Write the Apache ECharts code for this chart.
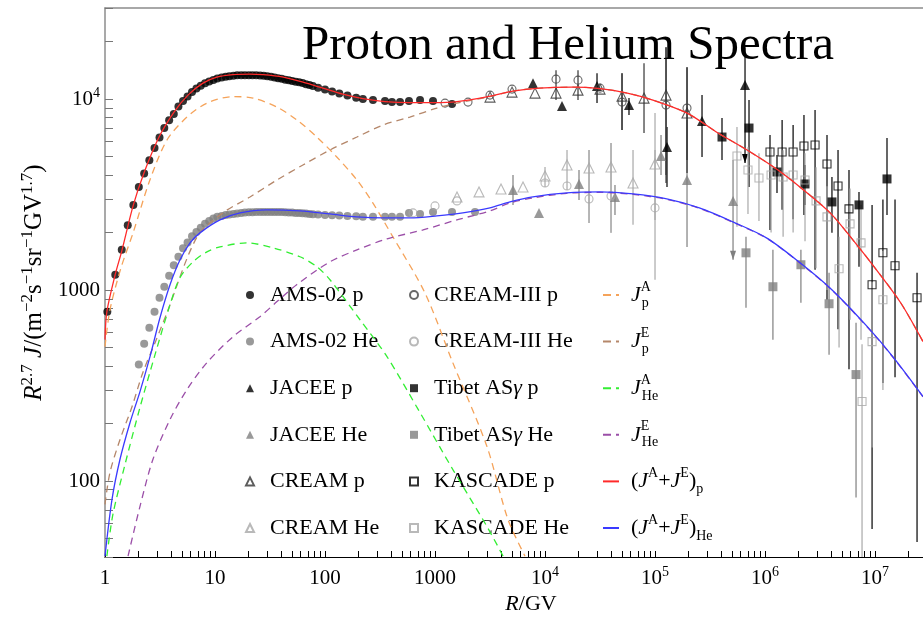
<!DOCTYPE html>
<html><head><meta charset="utf-8">
<script src="https://cdn.jsdelivr.net/npm/echarts@6.0.0/dist/echarts.min.js"></script>
<style>html,body{margin:0;padding:0;background:#fff;}#chart{width:923px;height:626px;}</style>
</head><body><div id="chart"></div>
<script>
const FONT = '"Liberation Serif", "DejaVu Serif", serif';

// ---------- axis ticks ----------
const xMajor = [1, 10, 100, 1000, 1e4, 1e5, 1e6, 1e7];
const yMajor = [100, 1000, 10000];
const xRange = [1, 2.73e7];
const yRange = [40, 30000];

// ---------- AMS-02 ----------
const amsP_R = [1.05,1.24,1.42,1.61,1.81,2.03,2.27,2.53,2.82,3.13,3.46,3.83,4.22,4.65,5.12,5.63,6.18,6.78,7.42,8.12,8.86,9.67,10.5,11.5,12.5,13.5,14.7,15.9,17.3,18.7,20.3,21.9,23.7,25.7,27.7,29.9,32.3,34.8,37.5,40.4,43.5,46.8,50.3,54.1,58.2,62.5,67.2,72.2,77.6,86.5,100,116,135,160,192,221,273,351,406,481,580,731,959,1428];
const amsP_F = [770,1202,1624,2184,2792,3467,4080,4782,5545,6292,7055,7749,8367,9138,9762,10318,10880,11348,11765,12125,12376,12603,12802,12986,13097,13191,13270,13319,13353,13353,13353,13353,13319,13289,13255,13160,13081,12986,12878,12783,12645,12541,12449,12346,12241,12154,11979,11837,11695,11472,11213,10945,10698,10455,10170,10000,9880,9762,9645,9645,9762,9880,9762,9417];
const amsHe_R = [2.03,2.27,2.53,2.82,3.13,3.46,3.83,4.22,4.65,5.12,5.63,6.18,6.78,7.42,8.12,8.86,9.67,10.5,11.5,12.5,13.5,14.7,15.9,17.3,18.7,20.3,21.9,23.7,25.7,27.7,29.9,32.3,34.8,37.5,40.4,43.5,46.8,50.3,54.1,58.2,62.5,67.2,72.2,77.6,86.5,100,116,135,160,192,221,273,351,406,481,580,731,959,1428,2310];
const amsHe_F = [407,524,635,770,912,1041,1188,1348,1494,1654,1777,1911,2017,2117,2222,2303,2373,2417,2446,2475,2490,2505,2520,2536,2545,2552,2559,2562,2567,2567,2567,2567,2567,2567,2562,2557,2551,2545,2536,2530,2524,2515,2505,2496,2484,2475,2466,2456,2446,2432,2417,2417,2417,2417,2417,2536,2505,2567,2567,2567];

// ---------- JACEE ----------
const jaceeP_R  = [7780,14275,29700,58000,128500,267500,658000];
const jaceeP_F  = [12125,9192,11695,9303,5612,7674,11837];
const jaceeP_lo = [null,null,9530,8248,3467,4975,4627];
const jaceeP_hi = [null,null,13674,10121,7140,10493,18700];
const jaceeP_arrow = [0,0,0,0,0,0,1];
const jaceeHe_R  = [5117,8820,20370,43260,113400,195400,512000];
const jaceeHe_F  = [3344,2536,3594,3074,5035,3772,2930];
const jaceeHe_lo = [2792,null,2965,2475,4006,1683,1440];
const jaceeHe_hi = [4006,null,4255,3550,6484,7766,4800];
const jaceeHe_arrow = [0,0,0,0,0,0,1];

// ---------- CREAM ----------
const creamP_R  = [3162,5012,8110,12590,19950,31620,50120,79430,125900,195400];
const creamP_F  = [10244,10880,10750,10750,11143,11280,10368,10121,10493,8450];
const creamP_lo = [null,null,null,null,null,null,6887,6643,4006,4104];
const creamP_hi = [null,null,null,null,null,null,13674,15420,18700,14700];
const creamHe_R  = [1585,2512,3981,6310,10000,15850,25120,39810,63100,100000];
const creamHe_F  = [3074,3266,3384,3467,3959,4519,4358,4410,3638,4573];
const creamHe_lo = [null,null,null,null,3467,3344,2248,1993,2200,2330];
const creamHe_hi = [null,null,null,null,4410,5413,5413,5888,5413,8450];

// ---------- CREAM-III ----------
const cream3P_R  = [1233,1995,3162,5012,12590,19950,31620,50120,125900,195400];
const cream3P_F  = [9530,9645,10493,11280,12720,12570,11415,9645,9303,8974];
const cream3P_lo = [null,null,null,null,9880,9880,null,6887,3638,4800];
const cream3P_hi = [null,null,null,null,14180,14180,null,13674,18700,14700];
const cream3He_R  = [631,1000,1585,10000,15850,25120,39810,100000];
const cream3He_F  = [2536,2759,2930,3638,3508,3001,3112,2693];
const cream3He_lo = [null,null,null,null,null,2248,1993,1132];
const cream3He_hi = [null,null,null,null,null,5413,5888,5413];

// ---------- Tibet ASγ ----------
const tibetP_R  = [406400,715300,1.285e6,2.31e6,4.06e6,7.15e6,1.285e7];
const tibetP_F  = [6330,7055,4153,3594,2894,2792,3819];
const tibetP_lo = [4800,3467,3226,2792,1993,1324,2475];
const tibetP_hi = [7955,9880,5097,4519,3912,3266,6254];
const tibetHe_R  = [671500,1.18e6,2.12e6,3.82e6,6.72e6];
const tibetHe_F  = [1567,1041,1357,848,361];
const tibetHe_lo = [808,550,858,459,82];
const tibetHe_hi = [1900,1624,1624,1231,675];

// ---------- KASCADE ----------
const kasP_R  = [1.11e6,1.43e6,1.80e6,2.26e6,2.85e6,3.66e6,4.61e6,5.80e6,9.40e6,1.18e7,1.52e7,2.41e7];
const kasP_F  = [5282,5282,5282,5679,5748,4573,3508,2661,1066,1567,1340,912];
const kasP_lo = [2066,2630,2350,2475,1277,890,624,385,56,326,349,48];
const kasP_hi = [6484,7766,7325,8250,8760,6484,5413,4255,2792,2980,2980,1231];
const kasHe_R  = [556000,700000,881000,1.135e6,1.46e6,1.80e6,2.31e6,2.91e6,3.66e6,4.71e6,5.93e6,7.46e6,7.62e6,9.40e6,1.18e7];
const kasHe_F  = [5035,4255,3864,4006,3912,4006,3772,2930,2417,1292,2222,1767,261,537,890];
const kasHe_lo = [2146,2500,2300,2000,1900,2000,1800,1300,1000,500,700,550,40,150,300];
const kasHe_hi = [7140,5600,5200,5600,5400,5600,5200,4400,3500,1900,3400,2800,520,1100,1600];

// ---------- model curves ----------
const jpA_R = [1,1.11,1.398,1.80,2.56,3.66,5.56,8.45,14.6,22.2,36.6,55.6,84.3,128,195,272,414,808,1450,2960,4600,6580];
const jpA_F = [506,789,1308,1993,3772,6106,8052,9530,10306,10121,9082,7766,6330,4975,3772,2860,1900,968,417,152,63,40.4];
const jpE_R = [1,1.11,1.37,1.76,2.21,2.85,3.66,6.87,11.8,20.8,36.6,63,111,195,336,591,1039,1581,3162,5094,8907,17800,31623,55900,95700,196000,374000,687000,1.31e6,2.24e6,3.91e6,6.29e6,1.03e7,1.71e7,2.73e7];
const jpE_F = [75.5,111,165,245,370,530,761,1900,2536,3074,3772,4519,5413,6330,7313,8052,8974,9530,10306,11011,11415,11553,11348,10750,9880,8450,6643,5413,4255,3344,2536,1832,1277,858,537];
const jheA_R = [1.04,1.18,1.52,2.08,2.85,3.9,4.8,6.31,8.45,11.1,19.5,33.6,59.2,84.3,111,208,366,731,1450,2960,4160];
const jheA_F = [40.4,66.8,122,243,459,838,1160,1406,1586,1683,1767,1664,1494,1324,1132,699,448,228,115,57.9,40.4];
const jheE_R = [1.62,2.08,2.73,3.9,5.56,8.45,14.6,25.6,36.6,55.6,111,195,366,779,1581,3160,4810,7760,15800,31600,63300,128000,253000,510000,1.03e6,2.03e6,4.05e6,8.51e6,1.45e7,2.73e7];
const jheE_F = [40.4,73.7,130,210,301,417,570,725,870,1070,1406,1624,1854,2066,2331,2598,2860,3040,3210,3250,3170,2985,2680,2265,1870,1400,1000,640,446,276];
const sumP_R = [1,1.04,1.23,1.43,1.80,2.26,3.10,4.24,5.68,7.77,10.4,14.6,20.8,27.3,41.7,63.0,95.7,145,221,351,591,959,1581,3162,5094,8907,17800,31623,55900,95700,196000,374000,687000,1.31e6,2.24e6,3.91e6,6.29e6,1.03e7,1.71e7,2.73e7];
const sumP_F = [550,770,1188,1624,2759,4104,6330,8551,10493,12125,13032,13432,13513,13432,13032,12271,11415,10620,10060,9703,9588,9588,9703,10368,11011,11415,11553,11348,10750,9880,8450,6643,5413,4255,3344,2536,1832,1277,858,537];
const sumHe_R = [1,1.158,1.369,1.687,2.08,2.565,3.16,3.90,4.81,5.93,7.30,11.1,16.9,29.6,59.2,111,195,336,591,1039,1790,3160,4810,7760,15800,31600,63300,128000,253000,510000,1.03e6,2.03e6,4.05e6,8.51e6,1.45e7,2.73e7];
const sumHe_F = [40.4,80.2,130,202,294,448,716,1066,1440,1767,1993,2331,2536,2630,2598,2505,2417,2388,2388,2446,2536,2693,2894,3074,3226,3266,3188,3001,2693,2275,1877,1406,1004,643,448,277];

// ---------- legend labels ----------
const legendCol1 = ['AMS-02 p','AMS-02 He','JACEE p','JACEE He','CREAM p','CREAM He'];
const legendCol2 = ['CREAM-III p','CREAM-III He','Tibet ASγ p','Tibet ASγ He','KASCADE p','KASCADE He'];
const legendCol3 = ['JpA','JpE','JHeA','JHeE','sumP','sumHe'];
const dashedCurves = ['JpA','JpE','JHeA','JHeE'];
const curveLabels = {
  JpA:  '{g| }{j|J}{sp|A}{sb|p}',
  JpE:  '{g| }{j|J}{sp|E}{sb|p}',
  JHeA: '{g| }{j|J}{sp|A}{sb|He}',
  JHeE: '{g| }{j|J}{sp|E}{sb|He}',
  sumP: '{g| }{n|(}{j|J}{su|A}{n|+}{j|J}{su|E}{n|)}{sb|p}',
  sumHe:'{g| }{n|(}{j|J}{su|A}{n|+}{j|J}{su|E}{n|)}{sb|He}'
};

// ---------- helpers ----------
function pts(R, F) { return R.map((r, i) => [r, F[i]]); }
function bars(R, lo, hi, arrow) {
  const out = [];
  R.forEach((r, i) => { if (lo[i] != null) out.push([r, lo[i], hi[i], arrow ? arrow[i] : 0]); });
  return out;
}
function ticksFrom(majors, lo, hi) {
  const out = [];
  const decades = [majors[0] / 10].concat(majors);
  decades.forEach(m => { for (let k = 1; k <= 9; k++) { const v = m * k; if (v >= lo && v <= hi) out.push(v); } });
  return out;
}
function errSeries(data, color) {
  return {
    type: 'custom', silent: true, clip: true, z: 1, data: data,
    encode: { x: 0, y: [1, 2] },
    renderItem: function (params, api) {
      const x = api.value(0), lo = api.value(1), hi = api.value(2), ar = api.value(3);
      const a = api.coord([x, lo]), b = api.coord([x, hi]);
      const ch = [{ type: 'line', shape: { x1: a[0], y1: a[1], x2: b[0], y2: b[1] }, style: { stroke: color, lineWidth: 1.2 } }];
      if (ar) ch.push({ type: 'polygon', shape: { points: [[a[0] - 3, a[1] - 9], [a[0] + 3, a[1] - 9], [a[0], a[1]]] }, style: { fill: color } });
      return { type: 'group', children: ch };
    }
  };
}
function scatter(name, R, F, symbol, size, fill, stroke) {
  return {
    name: name, type: 'scatter', data: pts(R, F), symbol: symbol, symbolSize: size, z: 3,
    itemStyle: fill ? { color: fill } : { color: 'rgba(255,255,255,0)', borderColor: stroke, borderWidth: 1.1 }
  };
}
function curve(name, R, F, color, dashed) {
  return {
    name: name, type: 'line', data: pts(R, F), symbol: 'none', showSymbol: false, smooth: 0.3,
    z: dashed ? 4 : 6, clip: true,
    lineStyle: { color: color, width: 1.3, type: dashed ? [7, 5] : 'solid' },
    itemStyle: { color: color }
  };
}
function powLabel(v) {
  const e = Math.round(Math.log10(v));
  if (e < 4) return '{b|' + Math.round(v) + '}';
  return '{b|10}{s|' + e + '}';
}

const axisRich = {
  b: { fontFamily: FONT, fontSize: 21, lineHeight: 26, color: '#000' },
  s: { fontFamily: FONT, fontSize: 14, lineHeight: 14, verticalAlign: 'top', color: '#000' }
};
const legendRich = {
  g: { fontFamily: FONT, fontSize: 10, width: 7, lineHeight: 30 },
  p: { fontFamily: FONT, fontSize: 10, width: 11, lineHeight: 30 },
  j: { fontFamily: FONT, fontSize: 22, fontStyle: 'italic', lineHeight: 30, color: '#000' },
  n: { fontFamily: FONT, fontSize: 22, lineHeight: 30, color: '#000' },
  sp: { fontFamily: FONT, fontSize: 14, lineHeight: 15, verticalAlign: 'top', width: 1, color: '#000' },
  su: { fontFamily: FONT, fontSize: 14, lineHeight: 15, verticalAlign: 'top', color: '#000' },
  sb: { fontFamily: FONT, fontSize: 14, lineHeight: 13, verticalAlign: 'bottom', color: '#000' },
  gi: { fontFamily: FONT, fontSize: 22, fontStyle: 'italic', lineHeight: 30, color: '#000' }
};
function legendBox(data, left, itemWidth, formatter, extra) {
  return Object.assign({
    data: data, left: left, top: 280, orient: 'vertical', selectedMode: false,
    itemWidth: itemWidth, itemHeight: 8, itemGap: 16.6, padding: 0,
    formatter: formatter,
    textStyle: { fontFamily: FONT, fontSize: 22, lineHeight: 30, color: '#000', rich: legendRich }
  }, extra || {});
}

const DARK = '#000', GRAY = '#7f7f7f', LIGHT = '#a8a8a8';

const option = {
  animation: false,
  backgroundColor: '#fff',
  title: {
    text: 'Proton and Helium Spectra', left: 297, top: 17,
    textStyle: { fontFamily: FONT, fontSize: 49, fontWeight: 'normal', color: '#000' }
  },
  grid: { left: 105, right: 0, top: 8, bottom: 69, containLabel: false },
  xAxis: [{
    type: 'log', min: xRange[0], max: xRange[1], position: 'bottom',
    axisLine: { lineStyle: { color: '#000', width: 1 } },
    axisTick: { inside: true, length: 6, customValues: ticksFrom(xMajor, xRange[0], xRange[1]), lineStyle: { color: '#000', width: 1 } },
    minorTick: { show: false },
    axisLabel: { customValues: xMajor, formatter: powLabel, margin: 8, rich: axisRich, color: '#000', fontFamily: FONT, fontSize: 21 },
    splitLine: { show: false },
    name: '{i|R}{n|/GV}', nameLocation: 'middle', nameGap: 36,
    nameTextStyle: {
      padding: [0, 0, 0, 34],
      rich: {
        i: { fontFamily: FONT, fontSize: 22, fontStyle: 'italic', color: '#000' },
        n: { fontFamily: FONT, fontSize: 22, color: '#000' }
      }
    }
  }, {
    type: 'log', min: xRange[0], max: xRange[1], position: 'top',
    axisLine: { lineStyle: { color: '#8c8c8c', width: 1.5 } },
    axisTick: { show: false }, axisLabel: { show: false }, splitLine: { show: false }
  }],
  yAxis: {
    type: 'log', min: yRange[0], max: yRange[1],
    axisLine: { lineStyle: { color: '#8c8c8c', width: 1.5 } },
    axisTick: { inside: true, length: 8, customValues: ticksFrom(yMajor, yRange[0], yRange[1]), lineStyle: { color: '#777', width: 1 } },
    minorTick: { show: false },
    axisLabel: { customValues: yMajor, formatter: powLabel, margin: 5, rich: axisRich, color: '#000', fontFamily: FONT, fontSize: 21 },
    splitLine: { show: false },
    name: '{i|R}{s|2.7}{i| J}{n|/(m}{s|−2}{n|s}{s|−1}{n|sr}{s|−1}{n|GV}{s|1.7}{n|)}',
    nameLocation: 'middle', nameRotate: 90, nameGap: 39,
    nameTextStyle: {
      rich: {
        i: { fontFamily: FONT, fontSize: 25, fontStyle: 'italic', lineHeight: 32, color: '#000' },
        n: { fontFamily: FONT, fontSize: 25, lineHeight: 32, color: '#000' },
        s: { fontFamily: FONT, fontSize: 17, lineHeight: 16, verticalAlign: 'top', color: '#000' }
      }
    }
  },
  legend: [
    legendBox(legendCol1, 245, 8, n => '{p| }' + n),
    legendBox(legendCol2, 409, 8, n => '{p| }' + n.replace('γ', '{gi|γ}')),
    legendBox(legendCol3.map(n => ({ name: n, lineStyle: { type: dashedCurves.indexOf(n) >= 0 ? [8, 5] : 'solid' } })),
      602, 16, n => curveLabels[n], { itemStyle: { opacity: 0 } })
  ],
  series: [
    errSeries(bars(jaceeP_R, jaceeP_lo, jaceeP_hi, jaceeP_arrow), DARK),
    errSeries(bars(jaceeHe_R, jaceeHe_lo, jaceeHe_hi, jaceeHe_arrow), GRAY),
    errSeries(bars(creamP_R, creamP_lo, creamP_hi), '#333'),
    errSeries(bars(creamHe_R, creamHe_lo, creamHe_hi), LIGHT),
    errSeries(bars(cream3P_R, cream3P_lo, cream3P_hi), '#333'),
    errSeries(bars(cream3He_R, cream3He_lo, cream3He_hi), LIGHT),
    errSeries(bars(tibetP_R, tibetP_lo, tibetP_hi), DARK),
    errSeries(bars(tibetHe_R, tibetHe_lo, tibetHe_hi), GRAY),
    errSeries(bars(kasP_R, kasP_lo, kasP_hi), DARK),
    errSeries(bars(kasHe_R, kasHe_lo, kasHe_hi), LIGHT),

    scatter('AMS-02 p', amsP_R, amsP_F, 'circle', 8, '#000'),
    scatter('AMS-02 He', amsHe_R, amsHe_F, 'circle', 8, GRAY),
    scatter('JACEE p', jaceeP_R, jaceeP_F, 'triangle', 10, '#000'),
    scatter('JACEE He', jaceeHe_R, jaceeHe_F, 'triangle', 10, GRAY),
    scatter('CREAM p', creamP_R, creamP_F, 'triangle', 10, null, '#333'),
    scatter('CREAM He', creamHe_R, creamHe_F, 'triangle', 10, null, LIGHT),
    scatter('CREAM-III p', cream3P_R, cream3P_F, 'circle', 8, null, '#444'),
    scatter('CREAM-III He', cream3He_R, cream3He_F, 'circle', 8, null, LIGHT),
    scatter('Tibet ASγ p', tibetP_R, tibetP_F, 'rect', 9, '#000'),
    scatter('Tibet ASγ He', tibetHe_R, tibetHe_F, 'rect', 9, GRAY),
    scatter('KASCADE p', kasP_R, kasP_F, 'rect', 8, null, '#000'),
    scatter('KASCADE He', kasHe_R, kasHe_F, 'rect', 8, null, LIGHT),

    curve('JpA', jpA_R, jpA_F, '#f5a35a', true),
    curve('JpE', jpE_R, jpE_F, '#b5876a', true),
    curve('JHeA', jheA_R, jheA_F, '#33ee33', true),
    curve('JHeE', jheE_R, jheE_F, '#9b4fa8', true),
    curve('sumP', sumP_R, sumP_F, '#ff2a2a', false),
    curve('sumHe', sumHe_R, sumHe_F, '#3a3aff', false)
  ]
};

const chart = echarts.init(document.getElementById('chart'), null, { renderer: 'canvas' });
chart.setOption(option);
</script>
</body></html>
